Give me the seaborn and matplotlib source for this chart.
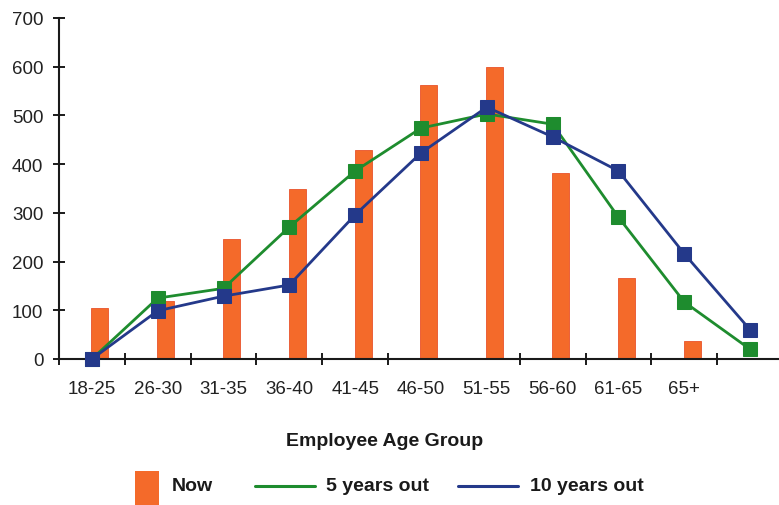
import numpy as np
import pandas as pd
import matplotlib
matplotlib.use("Agg")
import matplotlib.pyplot as plt
from matplotlib.lines import Line2D
from matplotlib.patches import Rectangle
import seaborn as sns

# Workforce by age group: current headcount and projected headcount
age_groups = ["18-25", "26-30", "31-35", "36-40", "41-45",
              "46-50", "51-55", "56-60", "61-65", "65+"]
now = [105, 120, 246, 349, 429, 563, 600, 382, 166, 37]
five_years_out = [0, 125, 145, 271, 386, 474, 503, 482, 291, 117, 20]
ten_years_out = [0, 99, 129, 152, 296, 423, 517, 456, 386, 216, 60]

ORANGE = "#F46A2A"
GREEN = "#1E8C2E"
BLUE = "#24398A"
INK = "#1a1a1a"

sns.set_theme(style="white")
plt.rcParams["font.family"] = ["Liberation Sans", "DejaVu Sans"]

W, H = 779, 506
fig = plt.figure(figsize=(W / 100, H / 100), dpi=100)

def fx(px):
    return px / W

def fy(py):
    return 1 - py / H

# plot area: x from -0.5 to 10.5 spans 59px .. 783px, y 0..700 spans 360px .. 19px
ax = fig.add_axes([fx(59), fy(360), (783 - 59) / W, (360 - 19) / H])

bars = pd.DataFrame({"pos": np.arange(len(now)) + 0.12, "count": now})
sns.barplot(data=bars, x="pos", y="count", native_scale=True, width=0.26,
            color=ORANGE, saturation=1, edgecolor="#E9532A", linewidth=0.6,
            ax=ax, zorder=2)

proj = pd.DataFrame({"slot": np.arange(len(five_years_out)),
                     "five": five_years_out, "ten": ten_years_out})
sns.lineplot(data=proj, x="slot", y="five", color=GREEN, lw=2.0,
             marker="s", markersize=9.5, markeredgecolor=GREEN,
             legend=False, ax=ax, zorder=6, clip_on=False)
sns.lineplot(data=proj, x="slot", y="ten", color=BLUE, lw=2.0,
             marker="s", markersize=9.5, markeredgecolor=BLUE,
             legend=False, ax=ax, zorder=7, clip_on=False)

ax.set_xlim(-0.5, 10.5)
ax.set_ylim(0, 700)
ax.set_ylabel("")

sns.despine(ax=ax)
for side in ("left", "bottom"):
    ax.spines[side].set_color(INK)
    ax.spines[side].set_linewidth(1.5)
    ax.spines[side].set_zorder(5)

ax.set_yticks(range(0, 701, 100))
ax.tick_params(axis="y", which="major", left=True, direction="inout",
               length=8.5, width=1.4, color=INK, pad=7, labelsize=13.5,
               labelcolor="#222222")

ax.set_xticks(range(len(age_groups)))
ax.set_xticklabels(age_groups)
ax.set_xticks([-0.5, 0.5, 1.5, 2.5, 3.5, 4.5, 6.5, 7.5, 8.5, 9.5], minor=True)
ax.tick_params(axis="x", which="major", bottom=True, length=0, pad=15,
               labelsize=13.5, labelcolor="#222222")
ax.tick_params(axis="x", which="minor", bottom=True, direction="inout",
               length=8.5, width=1.4, color=INK)

ax.set_xlabel("Employee Age Group", fontsize=14, fontweight="bold", color=INK)
ax.xaxis.set_label_coords((385 - 59) / (783 - 59), -0.215)

# legend row along the bottom edge
ly = fy(487)
fig.patches.append(Rectangle((fx(135), -0.02), fx(24), fy(472) + 0.02,
                             transform=fig.transFigure, facecolor=ORANGE,
                             edgecolor="none"))
fig.text(fx(172), ly, "Now", fontsize=14, fontweight="bold", color=INK,
         va="center", ha="left")
fig.lines.append(Line2D([fx(255), fx(315)], [ly, ly], transform=fig.transFigure,
                        color=GREEN, lw=2.2))
fig.text(fx(326), ly, "5 years out", fontsize=14, fontweight="bold", color=INK,
         va="center", ha="left")
fig.lines.append(Line2D([fx(458), fx(518)], [ly, ly], transform=fig.transFigure,
                        color=BLUE, lw=2.2))
fig.text(fx(530), ly, "10 years out", fontsize=14, fontweight="bold", color=INK,
         va="center", ha="left")

fig.savefig("out.png", dpi=100)
